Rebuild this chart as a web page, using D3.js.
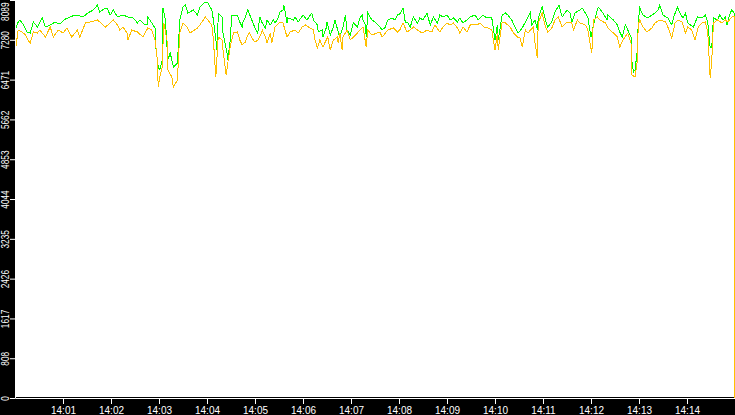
<meta charset="utf-8">

<!-- Load d3.js -->
<script src="https://cdn.jsdelivr.net/npm/d3@7/dist/d3.min.js"></script>

<style>
  body {
    margin: 0;
    background-color: #000000;
  }

  text {
    font-family: "Liberation Sans", Arial, sans-serif;
    font-size: 10px;
    fill: #ffffff;
  }

  .tick line, .domain {
    stroke: #ffffff;
  }

  .series {
    fill: none;
    stroke-width: 1;
    shape-rendering: crispEdges;
  }
</style>

<div id="chart"></div>

<script>
// seconds after 14:00:00
var greenSecs = [
  0,4,6,10,15,19,23,28,34,38,
  44,50,56,63,69,75,81,85,91,98,
  103,106,111,115,119,123,128,135,141,148,
  153,156,161,165,166,171,175,176,179,181,
  184,185,188,190,191,194,198,203,206,210,
  213,216,223,228,231,238,241,246,248,250,
  253,254,259,260,263,265,266,269,271,278,
  281,284,285,288,290,291,296,300,303,304,
  306,309,313,315,319,323,325,329,331,335,
  336,338,340,341,348,350,354,360,365,371,
  373,378,379,384,385,389,390,394,398,400,
  404,406,410,413,415,419,423,428,431,434,
  435,438,439,441,446,450,454,459,463,466,
  471,475,478,481,485,488,491,494,498,503,
  506,510,515,519,523,528,531,535,540,544,
  548,553,556,560,565,569,575,579,585,590,
  594,596,600,603,604,609,613,616,621,625,
  629,634,638,644,646,650,653,654,659,663,
  666,671,675,680,684,690,694,696,700,706,
  709,713,716,720,723,728,729,734,738,740,
  741,748,753,756,759,763,766,770,771,773,
  775,778,779,781,785,791,796,800,804,806,
  810,816,821,823,828,831,835,838,841,848,
  853,859,863,866,869,871,873,878,881,885,
  888,890,894,896,899,899
];
var greenVals = [
  7479,7642,7683,7601,7439,7418,7642,7540,7723,7540,
  7581,7642,7601,7703,7744,7784,7764,7744,7825,7886,
  7987,7845,7906,7926,7784,7886,7744,7784,7744,7723,
  7622,7683,7601,7581,7744,7622,7520,7134,6728,6667,
  6870,7926,7683,7134,6870,7012,6728,6809,7683,7947,
  7987,7825,7886,7784,7947,8048,8028,7886,7683,7418,
  7012,7825,7744,7418,7175,7012,6870,7276,7784,7784,
  7642,7540,7642,7744,7845,7886,7683,7520,7418,7479,
  7744,7622,7520,7683,7581,7683,7622,7723,7845,7886,
  7987,7825,7622,7723,7683,7744,7642,7784,7683,7825,
  7683,7581,7439,7479,7337,7520,7642,7378,7540,7683,
  7439,7337,7540,7784,7479,7378,7622,7540,7723,7784,
  7683,7581,7337,7825,7683,7642,7581,7479,7540,7683,
  7723,7683,7784,7804,7926,7622,7622,7540,7744,7622,
  7723,7683,7825,7581,7744,7622,7784,7744,7784,7683,
  7723,7642,7723,7622,7683,7744,7784,7683,7784,7723,
  7744,7723,7276,7581,7276,7784,7825,7784,7683,7540,
  7418,7520,7642,7825,7581,7683,7479,7723,7947,7683,
  7540,7642,7845,7987,7744,7886,7825,7622,7825,7886,
  7926,7825,7744,7337,7581,7886,7947,7845,7744,7683,
  7784,7683,7581,7439,7337,7581,7479,7337,6870,6626,
  6667,7073,7642,7926,7784,7723,7784,7825,7886,7987,
  7784,7723,7581,7723,7947,7825,7723,7825,7622,7540,
  7744,7723,7784,7622,7114,7134,7723,7683,7784,7683,
  7744,7581,7825,7886,7825,3903
];

var orangeSecs = [
  0,4,9,13,16,19,23,28,31,38,
  44,48,54,60,65,71,75,78,81,88,
  94,103,106,113,119,123,128,131,135,140,
  141,146,153,160,166,171,175,178,179,181,
  184,186,190,191,196,198,203,206,210,215,
  219,228,231,238,241,246,248,251,254,259,
  260,264,266,269,273,278,281,284,288,290,
  293,296,300,304,308,309,313,315,319,321,
  325,331,335,340,344,350,354,359,363,369,
  373,375,378,381,385,389,391,394,398,403,
  404,406,409,410,415,419,423,428,431,435,
  439,441,446,453,456,459,463,466,473,478,
  481,485,490,494,498,503,509,515,521,525,
  531,535,540,544,548,553,556,560,565,569,
  578,581,588,591,596,600,603,604,609,613,
  619,623,628,631,634,638,641,648,650,653,
  654,659,663,666,671,675,679,684,690,696,
  698,703,706,713,716,721,723,728,731,738,
  741,748,753,756,760,766,770,771,775,778,
  779,781,785,790,796,800,806,813,816,821,
  825,829,834,838,841,846,850,854,859,863,
  866,869,871,873,878,884,888,891,896,899,
  899
];
var orangeVals = [
  7012,7479,7439,7378,7276,7215,7439,7418,7479,7337,
  7540,7337,7479,7418,7520,7337,7418,7479,7337,7622,
  7642,7683,7642,7540,7622,7683,7581,7479,7540,7418,
  7276,7479,7439,7337,7520,7479,7276,6870,6321,6524,
  6728,7622,7276,6667,6524,6321,6463,7418,7622,7540,
  7418,7520,7581,7744,7683,7581,7276,6524,7337,7276,
  7073,6565,6809,7134,7418,7439,7276,7175,7236,7337,
  7418,7317,7236,7276,7418,7479,7337,7215,7418,7215,
  7540,7642,7622,7337,7439,7479,7418,7540,7581,7520,
  7479,7276,7114,7276,7134,7276,7337,7073,7276,7337,
  7215,7418,7073,7337,7479,7276,7337,7418,7479,7540,
  7134,7479,7378,7418,7439,7337,7418,7479,7520,7439,
  7479,7622,7439,7479,7540,7479,7418,7479,7439,7581,
  7439,7540,7622,7581,7622,7520,7418,7540,7439,7581,
  7581,7622,7520,7520,7479,7073,7418,7073,7642,7622,
  7540,7418,7337,7337,7134,7479,7418,7540,7215,6910,
  7622,7825,7540,7439,7520,7683,7744,7540,7642,7622,
  7479,7683,7622,7581,7479,7012,7683,7744,7683,7622,
  7520,7418,7337,7134,7276,7418,7215,6565,6524,6870,
  7581,7683,7540,7439,7520,7622,7683,7642,7540,7317,
  7622,7683,7642,7418,7540,7479,7276,7540,7622,7642,
  7418,6504,6870,7622,7683,7622,7683,7642,7744,7744,
  0
];

var yTicks = [0, 808, 1617, 2426, 3235, 4044, 4853, 5662, 6471, 7280, 8089];
var xTicks = ["14:01","14:02","14:03","14:04","14:05","14:06","14:07",
              "14:08","14:09","14:10","14:11","14:12","14:13","14:14"];

// chart geometry
var W = 735, H = 415;
var margin = {top: 0, right: 0, bottom: 17, left: 15},
    width = W - margin.left - margin.right,
    height = 398;

var svg = d3.select("#chart")
  .append("svg")
    .attr("width", W)
    .attr("height", H)
    .style("display", "block");

var parseHM = d3.timeParse("%H:%M");
var t0 = parseHM("14:00");

var x = d3.scaleTime()
  .domain([t0, d3.timeMinute.offset(t0, 15)])
  .range([margin.left, margin.left + width]);

var y = d3.scaleLinear()
  .domain([0, 8089])
  .range([height, 0]);

// white plot area
svg.append("rect")
  .attr("x", margin.left)
  .attr("y", 0)
  .attr("width", width)
  .attr("height", height - 1)
  .attr("fill", "#ffffff");

function toPoints(secs, vals) {
  return secs.map(function(s, i) {
    return {t: new Date(+t0 + s * 1000), v: vals[i]};
  });
}

var line = d3.line()
  .x(function(d) { return x(d.t); })
  .y(function(d) { return y(d.v); });

svg.append("path")
  .datum(toPoints(greenSecs, greenVals))
  .attr("class", "series")
  .attr("stroke", "#00ff00")
  .attr("d", line);

svg.append("path")
  .datum(toPoints(orangeSecs, orangeVals))
  .attr("class", "series")
  .attr("stroke", "#ffc000")
  .attr("d", line);

// X axis
svg.append("g")
  .attr("transform", "translate(0," + height + ")")
  .call(d3.axisBottom(x)
    .tickValues(xTicks.map(parseHM))
    .tickFormat(d3.timeFormat("%H:%M"))
    .tickSize(6)
    .tickSizeOuter(0))
  .call(g => g.selectAll("text").attr("fill", "#ffffff").attr("font-family", null).attr("font-size", null));

// Y axis, rotated labels
var yAxis = svg.append("g")
  .attr("transform", "translate(" + margin.left + ",0)")
  .call(d3.axisLeft(y)
    .tickValues(yTicks)
    .tickFormat(d3.format("d"))
    .tickSize(5)
    .tickSizeOuter(0));

yAxis.selectAll("text")
  .attr("fill", "#ffffff")
  .attr("font-family", null)
  .attr("font-size", null)
  .attr("text-anchor", "middle")
  .attr("transform", "rotate(-90)")
  .attr("dy", 0)
  .attr("y", -6)
  .attr("textLength", function(d) { return String(d).length * 4.6; })
  .attr("lengthAdjust", "spacingAndGlyphs")
  .attr("x", function(d) {
    // keep the top label inside the picture
    var half = String(d).length * 2.3;
    var top = y(d) - half;
    return top < 2 ? -(2 - top) : 0;
  });
</script>
